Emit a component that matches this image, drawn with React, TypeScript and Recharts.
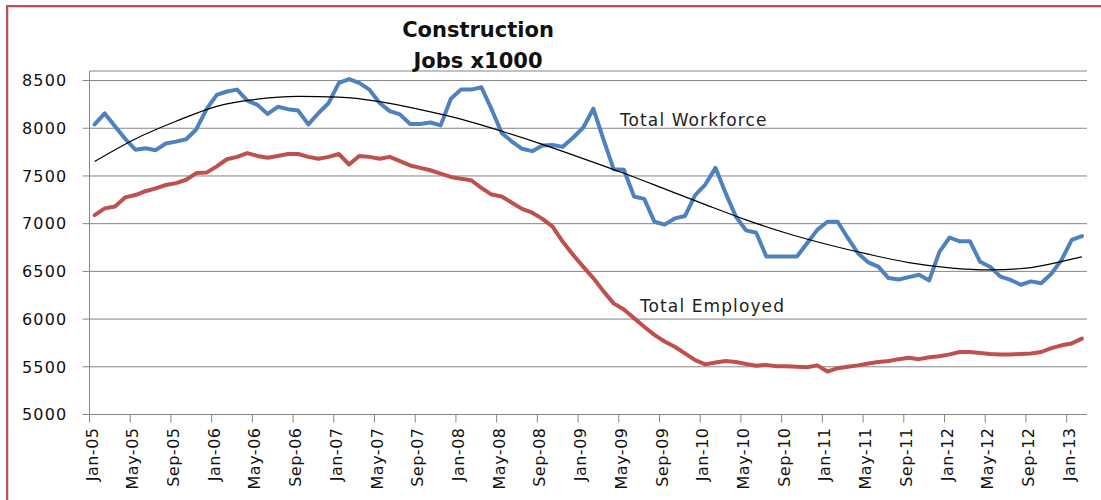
import React from 'react';
import { LineChart, Line, XAxis, YAxis, CartesianGrid } from 'recharts';

/* --- data (thousands of jobs) --- */

const MONTH_NAMES = ['Jan', 'Feb', 'Mar', 'Apr', 'May', 'Jun', 'Jul', 'Aug', 'Sep', 'Oct', 'Nov', 'Dec'];
const YEARS = ['05', '06', '07', '08', '09', '10', '11', '12', '13'];

const workforce = [
    8040, 8155, 8020, 7890, 7775, 7790, 7770, 7840, 7860, 7885, 7990, 8200,
    8350, 8385, 8405, 8290, 8245, 8150, 8225, 8200, 8185, 8040, 8160, 8265,
    8475, 8515, 8475, 8405, 8265, 8180, 8145, 8045, 8045, 8060, 8030, 8310,
    8405, 8405, 8430, 8200, 7950, 7860, 7785, 7760, 7820, 7825, 7805, 7900,
    8005, 8205, 7880, 7570, 7565, 7285, 7260, 7020, 6990, 7055, 7080, 7300,
    7410, 7585, 7320, 7075, 6930, 6905, 6655, 6655, 6655, 6655, 6795, 6935,
    7020, 7020, 6850, 6690, 6595, 6550, 6430, 6415, 6440, 6465, 6405, 6705,
    6855, 6815, 6815, 6600, 6545, 6445, 6410, 6360, 6395, 6375, 6475, 6620,
    6830, 6870,
];

const employed = [
    7090, 7160, 7180, 7275, 7300, 7340, 7370, 7405, 7425, 7460, 7530, 7535,
    7600, 7675, 7700, 7740, 7710, 7690, 7710, 7730, 7730, 7700, 7680, 7700,
    7730, 7620, 7710, 7700, 7680, 7700, 7655, 7610, 7585, 7560, 7525, 7490,
    7470, 7455, 7375, 7305, 7285, 7220, 7155, 7115, 7050, 6970, 6810, 6675,
    6550, 6430, 6290, 6165, 6100, 6010, 5920, 5835, 5765, 5710, 5640, 5570,
    5525, 5545, 5560, 5550, 5530, 5510, 5520, 5505, 5505, 5500, 5495, 5515,
    5450, 5485, 5500, 5515, 5535, 5550, 5560, 5580, 5595, 5580, 5600, 5610,
    5630, 5655, 5655, 5645, 5635, 5630, 5630, 5635, 5640, 5655, 5695, 5725,
    5745, 5795,
];

// polynomial trendline of the workforce, read at every labelled month
const trendMonths = [
    'Jan-05', 'May-05', 'Sep-05', 'Jan-06', 'May-06', 'Sep-06', 'Jan-07', 'May-07', 'Sep-07',
    'Jan-08', 'May-08', 'Sep-08', 'Jan-09', 'May-09', 'Sep-09', 'Jan-10', 'May-10', 'Sep-10',
    'Jan-11', 'May-11', 'Sep-11', 'Jan-12', 'May-12', 'Sep-12', 'Jan-13', 'Feb-13',
];
const trendValues = [
    7652, 7888, 8073, 8230, 8305, 8334, 8327, 8280, 8196,
    8096, 7969, 7831, 7682, 7528, 7365, 7200, 7040, 6900,
    6782, 6680, 6592, 6537, 6515, 6540, 6628, 6652,
];

const yTicks = [5000, 5500, 6000, 6500, 7000, 7500, 8000, 8500];

const months = YEARS.flatMap((y) => MONTH_NAMES.map((m) => `${m}-${y}`)).slice(0, workforce.length);

const data = months.map((month, idx) => {
    const t = trendMonths.indexOf(month);
    return {
        idx,
        month,
        workforce: workforce[idx],
        employed: employed[idx],
        trend: t >= 0 ? trendValues[t] : null,
    };
});

// Excel puts tick marks between categories, every 4th one labelled
const xTicks = months.map((_, i) => i - 0.5).filter((_, i) => i % 4 === 0);

/* --- styling --- */

const FONT = '"DejaVu Sans", Verdana, sans-serif';
const TEXT = '#111';
const GRID = '#868686';
const BLUE = '#4f81bd';
const RED = '#c0504d';

function MonthTick({ x, y, payload }: any) {
    const label = months[Math.round(payload.value + 0.5)];
    return (
        <text
            transform={`translate(${x + 8},${y}) rotate(-90)`}
            textAnchor="end"
            fontFamily={FONT}
            fontSize={16}
            letterSpacing={0.5}
            fill={TEXT}
        >
            {label}
        </text>
    );
}

function ValueTick({ x, y, payload }: any) {
    return (
        <text x={x} y={y + 5.8} textAnchor="end" fontFamily={FONT} fontSize={16} letterSpacing={1.2} fill={TEXT}>
            {payload.value}
        </text>
    );
}

export default function App() {
    return (
        <div style={{ position: 'absolute', left: 0, top: 0, width: 1101, height: 500, overflow: 'hidden', background: '#fff' }}>
            {/* frame of the embedded chart */}
            <div style={{ position: 'absolute', left: 6, top: 5, width: 1200, height: 600, borderLeft: `2px solid ${RED}`, borderTop: `2px solid ${RED}` }} />
            <div style={{ position: 'absolute', left: 8, top: 7, width: 1200, height: 600, borderLeft: '1px solid #d6d6d6', borderTop: '1px solid #d6d6d6' }} />

            <div style={{ position: 'absolute', left: 0, top: 0 }}>
                <LineChart width={1101} height={500} data={data} margin={{ top: 71, right: 14, bottom: 0, left: 0 }}>
                    <CartesianGrid vertical={false} stroke={GRID} strokeWidth={1} />
                    <XAxis
                        dataKey="idx"
                        type="number"
                        domain={[-0.5, months.length - 0.5]}
                        ticks={xTicks}
                        interval={0}
                        height={85.5}
                        tickSize={8}
                        tickMargin={5}
                        stroke={GRID}
                        tick={<MonthTick />}
                    />
                    <YAxis
                        type="number"
                        domain={[5000, 8600]}
                        ticks={yTicks}
                        interval={0}
                        width={89.5}
                        tickSize={7}
                        tickMargin={15}
                        stroke={GRID}
                        tick={<ValueTick />}
                    />
                    <Line
                        dataKey="employed"
                        stroke={RED}
                        strokeWidth={4}
                        dot={false}
                        activeDot={false}
                        strokeLinejoin="round"
                        strokeLinecap="round"
                        isAnimationActive={false}
                    />
                    <Line
                        dataKey="workforce"
                        stroke={BLUE}
                        strokeWidth={4}
                        dot={false}
                        activeDot={false}
                        strokeLinejoin="round"
                        strokeLinecap="round"
                        isAnimationActive={false}
                    />
                    <Line
                        dataKey="trend"
                        type="monotone"
                        connectNulls
                        stroke="#000"
                        strokeWidth={1.2}
                        dot={false}
                        activeDot={false}
                        isAnimationActive={false}
                    />
                </LineChart>
            </div>

            {/* title and series captions */}
            <svg width={1101} height={500} style={{ position: 'absolute', left: 0, top: 0, pointerEvents: 'none' }}>
                <text x={478} y={37} textAnchor="middle" fontFamily={FONT} fontWeight="bold" fontSize={21} fill={TEXT}>
                    Construction
                </text>
                <text x={478} y={68} textAnchor="middle" fontFamily={FONT} fontWeight="bold" fontSize={21} fill={TEXT}>
                    Jobs x1000
                </text>
                <text x={620} y={126} fontFamily={FONT} fontSize={17} letterSpacing={1.1} fill="#222">
                    Total Workforce
                </text>
                <text x={640} y={312} fontFamily={FONT} fontSize={17} letterSpacing={1.1} fill="#222">
                    Total Employed
                </text>
            </svg>
        </div>
    );
}
